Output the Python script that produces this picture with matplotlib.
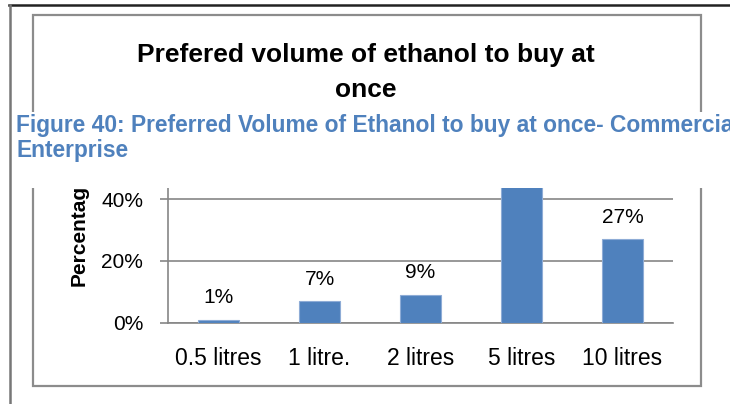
import matplotlib
matplotlib.use("Agg")
import matplotlib.pyplot as plt
from matplotlib.patches import Rectangle
from matplotlib.lines import Line2D
from matplotlib.ticker import FuncFormatter

# survey results: preferred volume of ethanol bought at once
categories = ["0.5 litres", "1 litre.", "2 litres", "5 litres", "10 litres"]
shares = [1, 7, 9, 56, 27]
y_ticks = [0, 20, 40, 60]

title_lines = ["Prefered volume of ethanol to buy at", "once"]
caption_lines = ["Figure 40: Preferred Volume of Ethanol to buy at once- Commercial",
                 "Enterprise"]

W, H = 730, 404
fig = plt.figure(figsize=(W / 100, H / 100), dpi=100)

def fx(px):
    return px / W

def fy(py):
    return 1 - py / H

plain = ["Liberation Sans", "DejaVu Sans"]
grey = "#868686"
blue = "#4F81BD"

# chart frame
fig.add_artist(Rectangle((fx(32.5), fy(386)), fx(701) - fx(32.5), fy(15) - fy(386),
                         transform=fig.transFigure, fill=False, edgecolor="#8c8c8c", lw=1.6))

ax = fig.add_axes([fx(168), fy(323), fx(673) - fx(168), fy(137) - fy(323)])
x = range(len(categories))
bars = ax.bar(x, shares, width=0.4, color=blue, edgecolor="#8EACD6", linewidth=0.8, zorder=3)
for b, v in zip(bars, shares):
    ax.annotate(f"{v}%", (b.get_x() + b.get_width() / 2, v), xytext=(0, 12),
                textcoords="offset points", ha="center", va="baseline",
                fontsize=15, family=plain, color="black")

ax.set_xlim(-0.5, len(categories) - 0.5)
ax.set_ylim(0, 60)
ax.set_yticks(y_ticks)
ax.yaxis.set_major_formatter(FuncFormatter(lambda v, p: f"{v:.0f}%"))
ax.set_xticks(list(x))
ax.set_xticklabels(categories)
ax.grid(axis="y", color=grey, lw=1.2, zorder=0)
for s in ["top", "right"]:
    ax.spines[s].set_visible(False)
for s in ["left", "bottom"]:
    ax.spines[s].set_color(grey)
    ax.spines[s].set_linewidth(1.2)
ax.tick_params(axis="y", length=6, width=1.2, color=grey, pad=12, labelsize=15)
ax.tick_params(axis="x", length=0, pad=17, labelsize=16.5)
for lab in ax.get_xticklabels() + ax.get_yticklabels():
    lab.set_family(plain)
ax.set_ylabel("Percentage", fontsize=15, fontweight="bold", family=plain, labelpad=9)

# chart title
fig.text(fx(366), fy(62), title_lines[0], ha="center", va="baseline",
         fontsize=19, fontweight="bold", family=plain)
fig.text(fx(366), fy(97), title_lines[1], ha="center", va="baseline",
         fontsize=19, fontweight="bold", family=plain)

# caption strip laid over the chart
fig.add_artist(Rectangle((fx(12), fy(188)), 1 - fx(12), fy(112) - fy(188),
                         transform=fig.transFigure, facecolor="white", edgecolor="none", zorder=10))
fig.text(fx(16), fy(132), caption_lines[0], ha="left", va="baseline", fontsize=16.4,
         fontweight="bold", family=plain, color=blue, zorder=11)
fig.text(fx(16), fy(157), caption_lines[1], ha="left", va="baseline", fontsize=16.4,
         fontweight="bold", family=plain, color=blue, zorder=11)

# page edges
fig.add_artist(Line2D([fx(9), 1], [fy(5), fy(5)], transform=fig.transFigure, color="#222222", lw=1.8))
fig.add_artist(Line2D([fx(9.5), fx(9.5)], [fy(5), 0], transform=fig.transFigure, color="#777777", lw=1.8))

fig.savefig("out.png", dpi=100)
